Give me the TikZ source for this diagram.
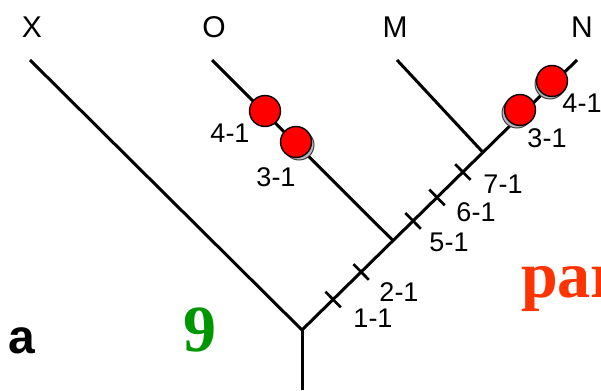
\documentclass[tikz,border=0pt]{standalone}
\usepackage{fontspec}
\setmainfont{Liberation Sans}
\newfontfamily\serifbold{Liberation Serif}
\usetikzlibrary{calc}
\begin{document}
\begin{tikzpicture}[x=1pt,y=-1pt,
  branch/.style={line width=3pt, line cap=butt},
  tickmark/.style={line width=2.7pt},
  taxon/.style={font=\fontsize{30}{30}\selectfont, inner sep=0pt},
  steplabel/.style={font=\fontsize{27}{27}\selectfont, inner sep=0pt},
  dot/.style={circle, fill=red, draw=black, line width=1.4pt, minimum size=31pt, inner sep=0pt},
  shade/.style={circle, fill=gray!55, draw=black!75, line width=1pt, minimum size=30pt, inner sep=0pt}]
\useasboundingbox (0,0) rectangle (601,390);
% coordinates
\coordinate (root) at (302,330);
\coordinate (base) at (302,390);
\coordinate (xtop) at (30,60);
\coordinate (otop) at (212,60);
\coordinate (mtop) at (397,60);
\coordinate (ntop) at (577,60);
\coordinate (oj) at ($(root)!0.331!(ntop)$);
\coordinate (mj) at ($(root)!0.658!(ntop)$);
% branches
\draw[branch] (base) -- (root);
\draw[branch] (root) -- (xtop);
\draw[branch] (root) -- (ntop);
\draw[branch] (oj) -- (otop);
\draw[branch] (mj) -- (mtop);
% ticks
\foreach \n/\t in {t1/0.113, t2/0.215, t5/0.404, t6/0.491, t7/0.585}{
  \coordinate (\n) at ($(root)!\t!(ntop)$);
  \draw[tickmark] ($(\n)!11pt!90:(ntop)$) -- ($(\n)!11pt!-90:(ntop)$);
}
% circles
\node[shade] (os) at (299,145) {};
\node[dot] (o4) at (265,111) {};
\node[dot] (o3) at (296,142) {};
\node[shade] (ns3) at (517,113) {};
\node[shade] (ns4) at (550,84) {};
\node[dot] (n3) at (520,110) {};
\node[dot] (n4) at (552,81) {};
% taxon labels
\node[taxon] (lx) at (32,27) {X};
\node[taxon] (lo) at (214,27) {O};
\node[taxon] (lm) at (395,27) {M};
\node[taxon] (ln) at (582,27) {N};
% step labels
\node[steplabel] (s11) at (373,318) {1-1};
\node[steplabel] (s21) at (399,292) {2-1};
\node[steplabel] (s51) at (449,242) {5-1};
\node[steplabel] (s61) at (476,212) {6-1};
\node[steplabel] (s71) at (503,184) {7-1};
\node[steplabel] (sn31) at (547,138) {3-1};
\node[steplabel] (sn41) at (582,103) {4-1};
\node[steplabel] (so41) at (230,133) {4-1};
\node[steplabel] (so31) at (276,177) {3-1};
% other text
\node[inner sep=0pt, font=\bfseries\fontsize{48}{48}\selectfont] (la) at (22,341) {a};
\node[inner sep=0pt, text={rgb,255:red,0;green,150;blue,0}, font=\serifbold\bfseries\fontsize{66}{66}\selectfont] (l9) at (200,330) {9};
\node[inner sep=0pt, anchor=base west, text={rgb,255:red,255;green,51;blue,0}, font=\serifbold\bfseries\fontsize{66}{66}\selectfont] (lpar) at (521,297) {par};
\end{tikzpicture}
\end{document}
